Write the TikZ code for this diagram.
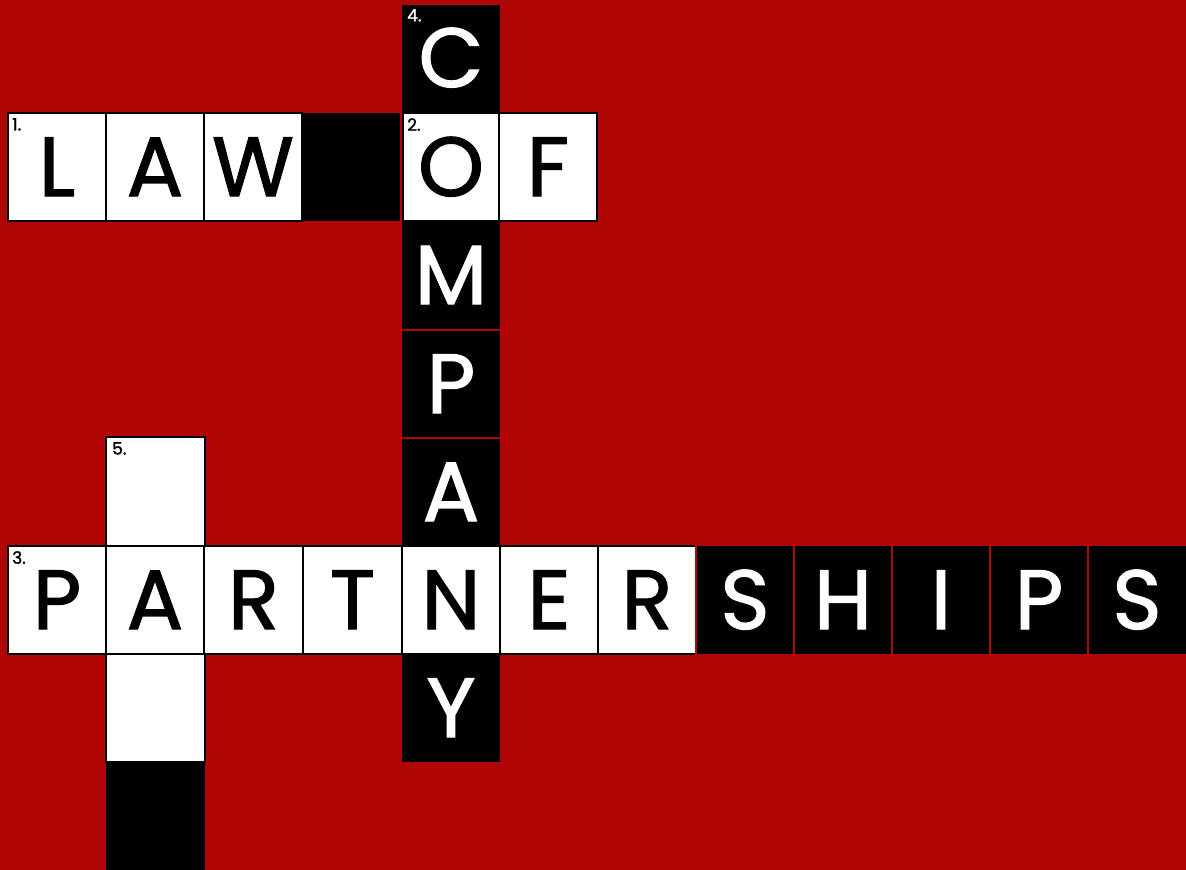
\documentclass[tikz,border=0pt]{standalone}
\usepackage{fontspec}
\setmainfont{Poppins}
\newfontfamily\letfont{Poppins}[FakeBold=1.4]
\definecolor{bg}{RGB}{176,6,6}
\tikzset{
  wcell/.style={fill=white, draw=black, line width=2pt},
  bcell/.style={fill=black, draw=bg, line width=1.2pt},
  blet/.style={anchor=base, inner sep=0pt, text=black, font=\letfont\fontsize{84}{84}\selectfont},
  wlet/.style={blet, text=white},
  num/.style={anchor=north west, inner sep=0pt, font=\letfont\fontsize{17}{17}\selectfont}
}
\begin{document}
\begin{tikzpicture}[x={(1pt,0)}, y={(0,-1pt)}]
\useasboundingbox (0,0) rectangle (1186,870);
\fill[bg] (0,0) rectangle (1186,870);
% column COMPANY (black)
\fill[black] (302,113) rectangle (402,221);
\foreach \ya/\yb in {4/113,113/221,221/330,330/438,438/546,546/654,654/763}
  \draw[bcell] (401,\ya) rectangle (501,\yb);
% column 5 black bottom
\fill[black] (106,762) rectangle (205,872);
% row 1 white cells
\foreach \xa/\xb in {8/106,106/204,204/302}
  \draw[wcell] (\xa,113) rectangle (\xb,221);
\draw[wcell] (403,113) rectangle (499,221);
\draw[wcell] (499,113) rectangle (597,221);
% column 5 white cells
\draw[wcell] (106,437) rectangle (205,546);
\draw[wcell] (106,654) rectangle (205,762);
% row 3 white cells
\foreach \xa/\xb in {8/106,106/204,204/303,303/402,402/500,500/598,598/696}
  \draw[wcell] (\xa,546) rectangle (\xb,654);
% row 3 black cells
\foreach \xa/\xb in {696/794,794/892,892/990,990/1088,1088/1188}
  \draw[bcell] (\xa,545) rectangle (\xb,655);
% letters row 1
\node[blet] (l1) at (57,196) {L};
\node[blet] (a1) at (155,196) {A};
\node[blet] (w1) at (253,196) {W};
\node[blet] (o1) at (451,196) {O};
\node[blet] (f1) at (548,196) {F};
% column letters
\node[wlet] (c4) at (451,87) {C};
\node[wlet] (m4) at (451,304) {M};
\node[wlet] (p4) at (451,413) {P};
\node[wlet] (a4) at (451,521) {A};
\node[wlet] (y4) at (451,737) {Y};
% row 3 letters
\node[blet] (p3) at (57,629) {P};
\node[blet] (a3) at (155,629) {A};
\node[blet] (r3) at (253.5,629) {R};
\node[blet] (t3) at (352.5,629) {T};
\node[blet] (n3) at (451,629) {N};
\node[blet] (e3) at (549,629) {E};
\node[blet] (r3b) at (647,629) {R};
\node[wlet] (s3) at (745,629) {S};
\node[wlet] (h3) at (843,629) {H};
\node[wlet] (i3) at (941,629) {I};
\node[wlet] (p3b) at (1039,629) {P};
\node[wlet] (s3b) at (1137,629) {S};
% numbers
\node[num, text=black] (n1) at (12,118) {1.};
\node[num, text=black] (n2) at (407,118) {2.};
\node[num, text=white] (n4) at (407,9) {4.};
\node[num, text=black] (n3) at (12,551) {3.};
\node[num, text=black] (n5) at (112,442) {5.};
\end{tikzpicture}
\end{document}
